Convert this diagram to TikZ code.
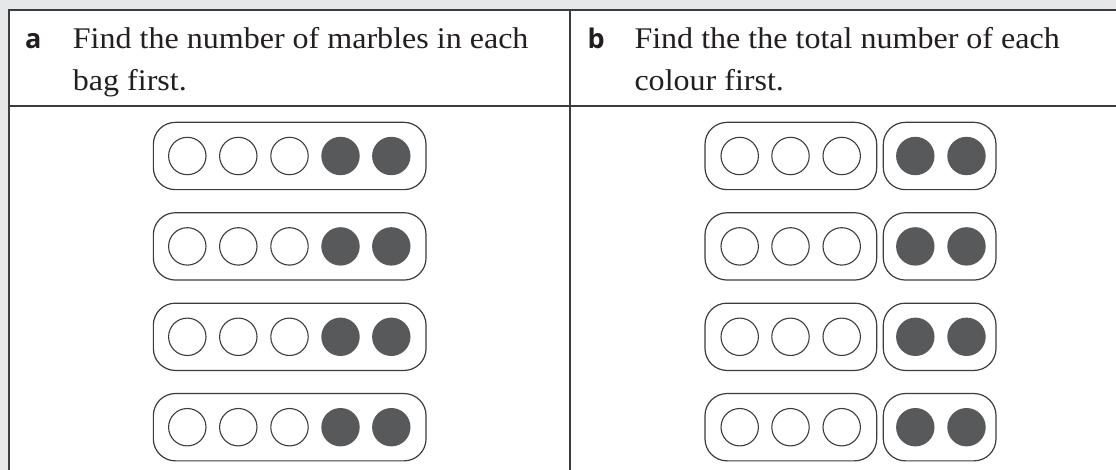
\documentclass[tikz,border=0pt]{standalone}
\usepackage{fontspec}
\setmainfont{Liberation Serif}[FakeStretch=1.068]
\newfontfamily\labfont{Open Sans}
\definecolor{bggrey}{HTML}{E6E7E8}
\definecolor{linegrey}{HTML}{3C3C3D}
\definecolor{marblegrey}{HTML}{58595B}
\definecolor{textblack}{HTML}{231F20}
\begin{document}
\begin{tikzpicture}[x=1pt,y=-1pt,
  tline/.style={draw=linegrey,line width=1.5pt},
  bag/.style={draw=linegrey,line width=1.2pt,rounded corners=22pt,minimum height=67.3pt,inner sep=0pt},
  wm/.style={circle,draw=linegrey,line width=1.1pt,fill=white,minimum size=37.4pt,inner sep=0pt},
  dm/.style={circle,fill=marblegrey,minimum size=38.4pt,inner sep=0pt},
  txt/.style={anchor=base west,inner sep=0pt,font=\fontsize{30}{36}\selectfont,text=textblack},
  lab/.style={anchor=base west,inner sep=0pt,font=\labfont\bfseries\fontsize{27}{32}\selectfont,text=textblack}]
\useasboundingbox (0,0) rectangle (1116,470);
\fill[bggrey] (0,0) rectangle (1116,470);
\fill[white] (9,10) rectangle (1116,470);
% table lines
\coordinate (tl) at (9,10);
\coordinate (tr) at (1116,10);
\coordinate (bl) at (9,470);
\coordinate (hl) at (9,106);
\coordinate (hr) at (1116,106);
\coordinate (dt) at (570,10);
\coordinate (db) at (570,470);
\draw[tline] (bl) -- (tl) -- (tr);
\draw[tline] (hl) -- (hr);
\draw[tline] (dt) -- (db);
% header texts
\node[lab] (la) at (25,49) {a};
\node[txt] (ta1) at (72.7,49) {Find the number of marbles in each};
\node[txt] (ta2) at (72.7,90.7) {bag first.};
\node[lab] (lb) at (587.3,49) {b};
\node[txt] (tb1) at (634.3,49) {Find the the total number of each};
\node[txt] (tb2) at (634.3,90.7) {colour first.};
% bags
\foreach \r/\y in {1/156,2/246.4,3/336.8,4/427.2}{
  % part a
  \node[bag,minimum width=272.7pt] (a\r) at (289.7,\y) {};
  \foreach \i/\x in {1/187.3,2/238.3,3/289.5}{
    \node[wm] (a\r m\i) at (\x,\y) {};
  }
  \foreach \i/\x in {4/340.5,5/391.3}{
    \node[dm] (a\r m\i) at (\x,\y) {};
  }
  % part b
  \node[bag,minimum width=171.7pt] (bw\r) at (790.85,\y) {};
  \node[bag,minimum width=112.7pt] (bd\r) at (939.65,\y) {};
  \foreach \i/\x in {1/739.7,2/790.5,3/841.7}{
    \node[wm] (b\r m\i) at (\x,\y) {};
  }
  \foreach \i/\x in {4/915.3,5/966.5}{
    \node[dm] (b\r m\i) at (\x,\y) {};
  }
}
\end{tikzpicture}
\end{document}
